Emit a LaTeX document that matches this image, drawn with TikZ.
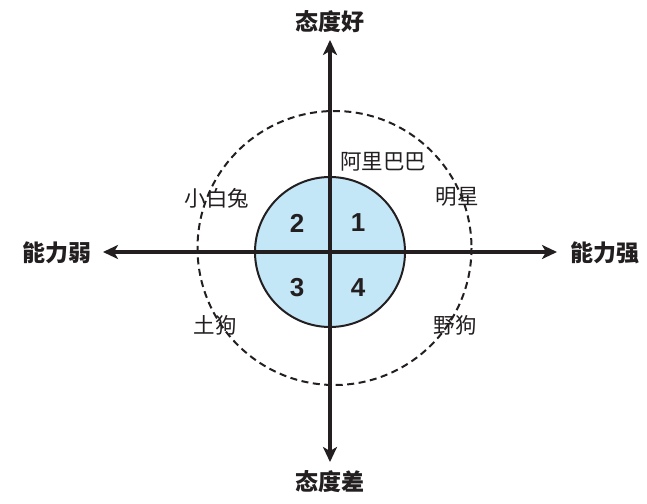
\documentclass[tikz,border=0pt]{standalone}
\usepackage{fontspec}
\setmainfont{Liberation Sans}
\newfontfamily\cjk{Noto Sans CJK SC}
\usetikzlibrary{arrows.meta}
\definecolor{ink}{HTML}{231F20}
\definecolor{tintsky}{HTML}{C4E7F7}
\newcommand{\axisfont}{\cjk\fontsize{23}{26}\selectfont\bfseries}
\newcommand{\tagfont}{\cjk\fontsize{21.5}{24}\selectfont}
\newcommand{\numfont}{\fontsize{26}{29}\selectfont\bfseries}

\begin{document}
\begin{tikzpicture}[x=1pt,y=-1pt,
  axisline/.style={ink,line width=3.6pt,{Stealth[length=15pt,width=14pt,inset=4pt]}-{Stealth[length=15pt,width=14pt,inset=4pt]}},
  axislabel/.style={inner sep=0,font=\axisfont,text=ink},
  tag/.style={inner sep=0,font=\tagfont,text=ink},
  num/.style={inner sep=0,font=\numfont,text=ink}]
\useasboundingbox (0,0) rectangle (647,503);
\coordinate (o) at (330,252);
\coordinate (w) at (103,252);
\coordinate (e) at (557,252);
\coordinate (n) at (330,40);
\coordinate (s) at (330,462);
% rings
\draw[ink,line width=2pt,dash pattern=on 7pt off 4.5pt] (334.5,248) circle (137);
\filldraw[fill=tintsky,draw=ink,line width=2pt] (o) circle (75);
% axes
\draw[axisline] (w) -- (e);
\draw[axisline] (s) -- (n);
\node[axislabel] (good) at (330,22) {态度好};
\node[axislabel] (bad) at (330,482) {态度差};
\node[axislabel] (weak) at (57,253) {能力弱};
\node[axislabel] (strong) at (605,253) {能力强};
% quadrants
\node[num] (q1) at (358,223) {1};
\node[num] (q2) at (297,223) {2};
\node[num] (q3) at (297,288) {3};
\node[num] (q4) at (358,288) {4};
\node[tag] (ali) at (383,162) {阿里巴巴};
\node[tag] (star) at (457,197) {明星};
\node[tag] (bunny) at (217,198) {小白兔};
\node[tag] (mutt) at (215,325) {土狗};
\node[tag] (wild) at (455,325) {野狗};
\end{tikzpicture}
\end{document}
